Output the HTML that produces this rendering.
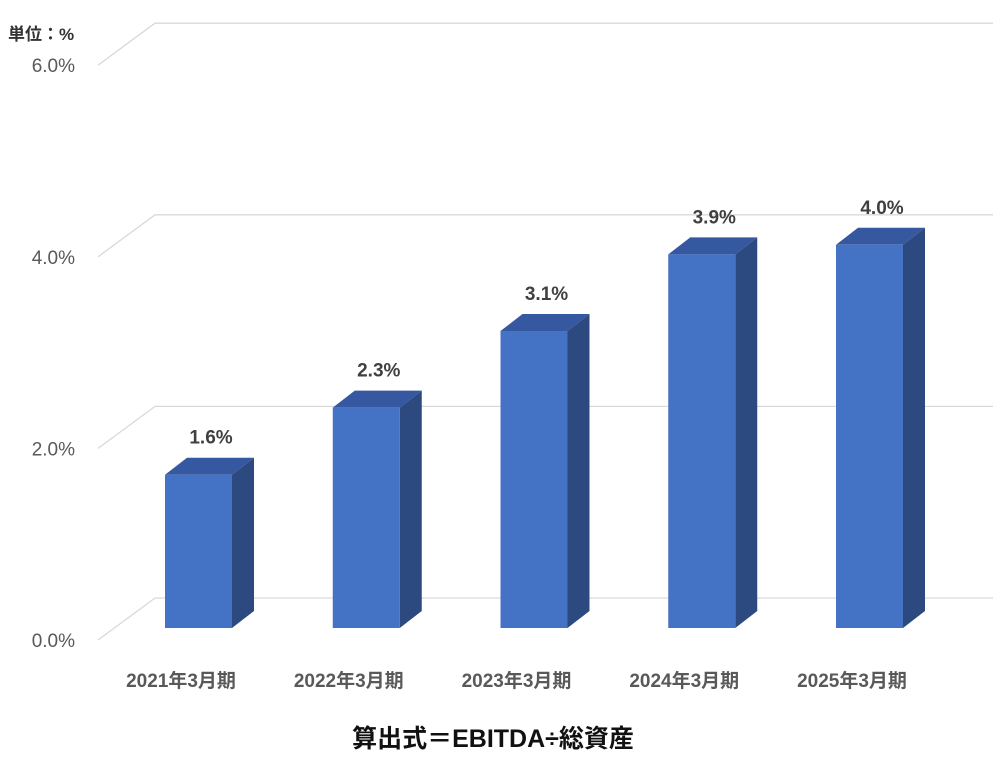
<!DOCTYPE html>
<html><head><meta charset="utf-8"><style>
body{margin:0;background:#fff;}
svg{display:block;font-family:"Liberation Sans","Noto Sans CJK JP",sans-serif;}
</style></head><body>
<svg id="c" width="1004" height="768">
<text x="8" y="40" font-size="17" font-weight="bold" fill="#333">単位：%</text>
<text x="493" y="747" text-anchor="middle" font-size="25" font-weight="bold" fill="#111">算出式＝EBITDA÷総資産</text>
<g id="grid"></g><g id="bars"></g>
</svg>
<script>
const categories=["2021年3月期","2022年3月期","2023年3月期","2024年3月期","2025年3月期"];
const values=[1.6,2.3,3.1,3.9,4.0];
const valueLabels=["1.6%","2.3%","3.1%","3.9%","4.0%"];
const ticks=[0,2,4,6];
const tickLabels=["0.0%","2.0%","4.0%","6.0%"];
const NS="http://www.w3.org/2000/svg";
const y0=628,ppu=95.8,dx=57,dy=42;
const y=v=>y0-v*ppu;
const grid=document.getElementById('grid'),bars=document.getElementById('bars');
function mk(tag,attrs,parent){const e=document.createElementNS(NS,tag);for(const k in attrs)e.setAttribute(k,attrs[k]);parent.appendChild(e);return e;}
ticks.forEach((t,i)=>{
  const fy=y(t)+12;
  const d=mk('polyline',{points:`98,${fy} ${98+dx},${fy-dy} 993,${fy-dy}`,fill:'none',stroke:'#d9d9d9','stroke-width':1.3},grid);
  
  
  const l=mk('text',{x:75,y:fy+7,'text-anchor':'end','font-size':19,fill:'#595959'},grid);
  l.textContent=tickLabels[i];
  
  
});
const x0=165,step=167.75,w=67,sx=22,sy=17;
values.forEach((v,i)=>{
  const x=x0+i*step,top=y(v);
  const g=mk('g',{},bars);
  
  
  mk('polygon',{points:`${x},${top} ${x+sx},${top-sy} ${x+w+sx},${top-sy} ${x+w},${top}`,fill:'#3558A0'},g);
  mk('polygon',{points:`${x+w},${top} ${x+w+sx},${top-sy} ${x+w+sx},${y0-sy} ${x+w},${y0}`,fill:'#2D4A80'},g);
  mk('rect',{x:x,y:top,width:w,height:y0-top,fill:'#4472C4'},g);
  const vl=mk('text',{x:x+46,y:top-31,'text-anchor':'middle','font-size':19,'font-weight':'bold',fill:'#404040'},bars);
  vl.textContent=valueLabels[i];
  
  
  const cl=mk('text',{x:x+16,y:687,'text-anchor':'middle','font-size':19,'font-weight':'bold',fill:'#595959'},bars);
  cl.textContent=categories[i];
  
  
});
</script>
</body></html>
